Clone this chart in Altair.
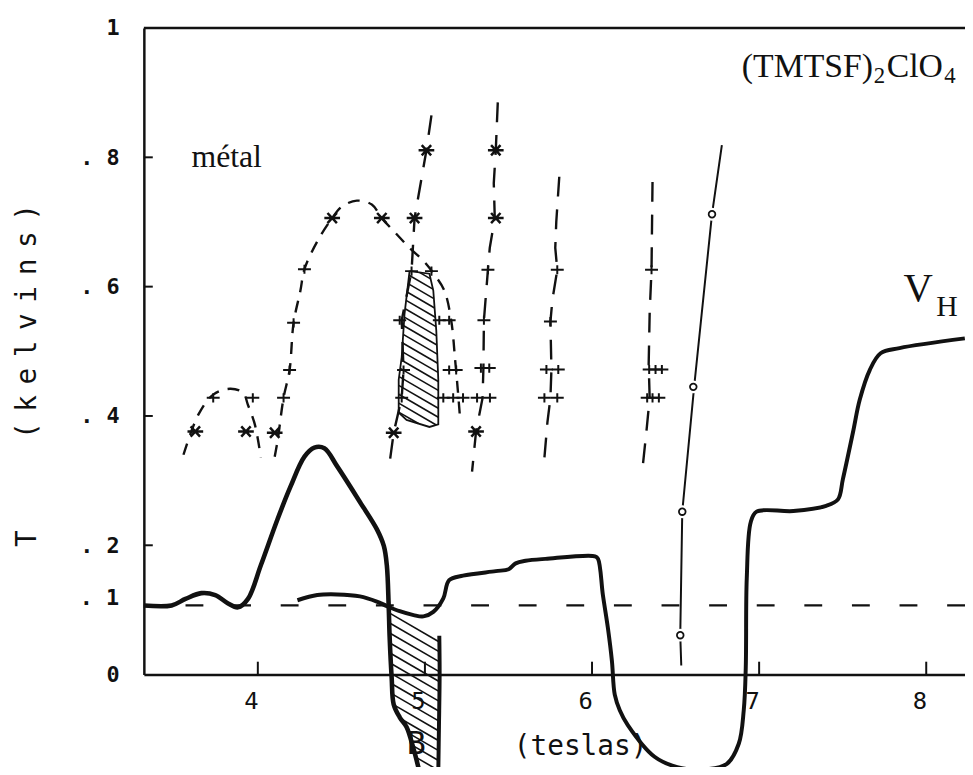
import altair as alt
import pandas as pd
import numpy as np

# ---------------- data (B in teslas, T in kelvins) ----------------
# thick V_H trace, left branch
vh1_B = [3.318, 3.484, 3.567, 3.662, 3.745, 3.822, 3.881, 3.941, 4.018, 4.119, 4.196, 4.279,
         4.338, 4.398, 4.475, 4.611, 4.712, 4.754, 4.772, 4.783, 4.789, 4.801, 4.813, 4.849,
         4.890, 4.932, 4.967]
vh1_T = [0.107, 0.107, 0.117, 0.126, 0.123, 0.110, 0.104, 0.117, 0.169, 0.241, 0.291, 0.337,
         0.351, 0.350, 0.322, 0.267, 0.225, 0.199, 0.169, 0.107, 0.057, -0.005, -0.046, -0.066,
         -0.081, -0.115, -0.150]
# short vertical trace bounding the lower hatched zone
vh2_B = [5.086, 5.088, 5.084, 5.080]
vh2_T = [0.060, 0.000, -0.080, -0.150]
# long V_H trace
vh3_B = [4.237, 4.356, 4.475, 4.611, 4.712, 4.772, 4.849, 4.932, 4.991, 5.050, 5.110, 5.145,
         5.228, 5.424, 5.501, 5.543, 5.602, 5.721, 6.018, 6.036, 6.065, 6.095, 6.119, 6.136,
         6.166, 6.214, 6.374, 6.510, 6.653, 6.807, 6.878, 6.908, 6.920, 6.926, 6.950, 6.985,
         7.205, 7.401, 7.472, 7.501, 7.561, 7.602, 7.662, 7.727, 7.840, 8.231]
vh3_T = [0.115, 0.123, 0.124, 0.121, 0.113, 0.106, 0.098, 0.092, 0.090, 0.097, 0.118, 0.146,
         0.153, 0.160, 0.163, 0.172, 0.176, 0.179, 0.183, 0.179, 0.123, 0.072, 0.021, -0.031,
         -0.055, -0.078, -0.127, -0.143, -0.147, -0.138, -0.107, -0.055, 0.011, 0.149, 0.236,
         0.252, 0.253, 0.261, 0.271, 0.302, 0.374, 0.425, 0.471, 0.497, 0.505, 0.520]
ref_T = 0.107

# phase boundaries (dashed)
dome1_B = [3.555, 3.644, 3.733, 3.834, 3.911, 3.941, 3.982, 4.018]
dome1_T = [0.340, 0.402, 0.433, 0.442, 0.436, 0.417, 0.387, 0.336]
dome2_B = [4.101, 4.119, 4.154, 4.190, 4.214, 4.255, 4.279, 4.356, 4.445, 4.504, 4.593, 4.682,
           4.742, 4.831, 4.908, 4.991, 5.050, 5.116, 5.157, 5.181, 5.199, 5.211]
dome2_T = [0.337, 0.363, 0.428, 0.471, 0.544, 0.594, 0.627, 0.670, 0.706, 0.724, 0.733, 0.727,
           0.706, 0.681, 0.660, 0.640, 0.621, 0.594, 0.548, 0.486, 0.433, 0.394]
colA_B = [5.039, 5.009, 4.938, 4.920, 4.861, 4.872, 4.861, 4.813, 4.789]
colA_T = [0.865, 0.811, 0.706, 0.624, 0.548, 0.471, 0.428, 0.374, 0.328]
colB_B = [5.436, 5.424, 5.412, 5.418, 5.388, 5.377, 5.353, 5.350, 5.345, 5.306, 5.282]
colB_T = [0.885, 0.811, 0.760, 0.706, 0.660, 0.626, 0.548, 0.474, 0.428, 0.376, 0.314]
colC_B = [5.804, 5.786, 5.780, 5.792, 5.763, 5.751, 5.757, 5.751, 5.733, 5.709]
colC_T = [0.770, 0.700, 0.660, 0.626, 0.580, 0.546, 0.472, 0.428, 0.390, 0.317]
colD_B = [6.362, 6.356, 6.345, 6.339, 6.345, 6.327, 6.303]
colD_T = [0.762, 0.626, 0.560, 0.480, 0.428, 0.380, 0.321]
# solid line through open circles
circline_B = [6.777, 6.718, 6.611, 6.540, 6.528, 6.534]
circline_T = [0.819, 0.712, 0.445, 0.252, 0.061, 0.014]
circ_B = [6.718, 6.606, 6.540, 6.528]
circ_T = [0.712, 0.445, 0.252, 0.061]

# measured points
star_B = [3.626, 3.929, 4.101, 4.445, 4.742, 5.009, 4.938, 4.813, 5.424, 5.424, 5.306]
star_T = [0.376, 0.376, 0.374, 0.706, 0.706, 0.811, 0.706, 0.374, 0.811, 0.706, 0.376]
plus_B = [3.733, 3.970, 4.154, 4.190, 4.214, 4.279, 4.920, 4.849, 4.872, 4.861,
          5.039, 5.086, 5.145, 5.145, 5.187, 5.110, 5.169, 5.228,
          5.377, 5.353, 5.335, 5.385, 5.312, 5.389,
          5.792, 5.751, 5.727, 5.798, 5.715, 5.792,
          6.356, 6.342, 6.380, 6.418, 6.330, 6.362, 6.400]
plus_T = [0.428, 0.428, 0.428, 0.471, 0.544, 0.627, 0.624, 0.548, 0.471, 0.428,
          0.624, 0.548, 0.548, 0.471, 0.471, 0.428, 0.428, 0.428,
          0.626, 0.548, 0.474, 0.474, 0.428, 0.428,
          0.626, 0.546, 0.472, 0.472, 0.428, 0.428,
          0.626, 0.472, 0.472, 0.472, 0.428, 0.428, 0.428]

# hatched zones (polygons)
hup_B = [4.908, 4.878, 4.861, 4.843, 4.843, 4.890, 5.027, 5.080, 5.080, 5.068, 5.050, 5.027]
hup_T = [0.624, 0.558, 0.491, 0.456, 0.405, 0.394, 0.383, 0.387, 0.456, 0.532, 0.594, 0.620]
hlo_B = [4.789, 4.789, 4.801, 4.813, 4.849, 4.890, 4.932, 4.967, 5.080, 5.084, 5.088, 5.086]
hlo_T = [0.098, 0.057, -0.005, -0.046, -0.066, -0.081, -0.115, -0.150, -0.150, -0.080, 0.000, 0.060]

x_ticks = [4, 5, 6, 7, 8]
y_ticks = [0.2, 0.4, 0.6, 0.8]
y_label_vals = [0, 0.2, 0.4, 0.6, 0.8, 1]

# ---------------- layout ----------------
W, H = 828, 652
B_MIN, B_MAX = 3.318, 8.232
INK = "#111111"
MONO = "DejaVu Sans Mono"
SERIF = "Liberation Serif"

xs = alt.Scale(domain=[B_MIN, B_MAX], nice=False, zero=False)
ys = alt.Scale(domain=[0, 1], nice=False, zero=False)
xaxis = alt.Axis(values=x_ticks, format="d", title=None, grid=False, ticks=False, tickSize=0,
                 labelFont=MONO, labelFontSize=24, labelColor=INK, labelPadding=15,
                 labelOffset=-7, domainColor=INK, domainWidth=2.5)
yaxis = alt.Axis(values=y_label_vals, title=None, grid=False, ticks=False, tickSize=0,
                 labelExpr="datum.value == 0 ? '0' : datum.value == 1 ? '1' : '. ' + format(datum.value*10, 'd')",
                 labelFont=MONO, labelFontSize=22, labelFontWeight="bold", labelColor=INK,
                 labelPadding=25, domainColor=INK, domainWidth=2.5)

X = lambda: alt.X("B:Q", scale=xs, axis=xaxis)
Y = lambda: alt.Y("T:Q", scale=ys, axis=yaxis)


def series(Bs, Ts, name=""):
    return pd.DataFrame({"B": Bs, "T": Ts, "i": range(len(Bs)), "s": name})


def line_layer(df, width, dash=None, interp="linear"):
    kw = dict(color=INK, strokeWidth=width, interpolate=interp, clip=False)
    if dash:
        kw["strokeDash"] = dash
    return alt.Chart(df).mark_line(**kw).encode(x=X(), y=Y(), order="i:Q", detail="s:N")


def hatch(Bs, Ts, slope_px=0.58, step_px=10.0):
    px_per_B = W / (B_MAX - B_MIN)
    m = -slope_px * px_per_B / H
    step = step_px / H
    pts = list(zip(Bs, Ts))
    n = len(pts)
    vals = [t - m * b for b, t in pts]
    segs = []
    c = np.ceil(min(vals) / step) * step
    while c < max(vals):
        hits = []
        for k in range(n):
            (b1, t1), (b2, t2) = pts[k], pts[(k + 1) % n]
            f1, f2 = t1 - m * b1 - c, t2 - m * b2 - c
            if (f1 < 0) != (f2 < 0):
                s = f1 / (f1 - f2)
                hits.append(b1 + s * (b2 - b1))
        hits.sort()
        for j in range(0, len(hits) - 1, 2):
            segs.append({"B": hits[j], "T": c + m * hits[j], "B2": hits[j + 1], "T2": c + m * hits[j + 1]})
        c += step
    return segs


hatch_df = pd.DataFrame(hatch(hup_B, hup_T, step_px=9.0) + hatch(hlo_B, hlo_T))
hatch_layer = alt.Chart(hatch_df).mark_rule(color=INK, strokeWidth=1.6, clip=False).encode(
    x=X(), y=Y(), x2="B2:Q", y2="T2:Q")

outline_df = series(hup_B + [hup_B[0]], hup_T + [hup_T[0]], "up")
outline_layer = line_layer(outline_df, 1.8)

ref_layer = alt.Chart(pd.DataFrame({"T": [ref_T]})).mark_rule(
    color=INK, strokeWidth=2.2, strokeDash=[18, 30]).encode(y=Y())

domes = pd.concat([series(dome1_B, dome1_T, "d1"), series(dome2_B, dome2_T, "d2")])
dome_layer = line_layer(domes, 2.4, dash=[12, 9], interp="catmull-rom")
cols = pd.concat([series(colA_B, colA_T, "a"), series(colB_B, colB_T, "b"),
                  series(colC_B, colC_T, "c"), series(colD_B, colD_T, "d")])
col_layer = line_layer(cols, 2.4, dash=[20, 13])
circline_layer = line_layer(series(circline_B, circline_T, "o"), 2.0)

vh_layer1 = line_layer(series(vh1_B, vh1_T, "v1"), 4.6, interp="catmull-rom")
vh_layer2 = line_layer(series(vh2_B, vh2_T, "v2"), 4.0, interp="catmull-rom")
vh_layer3 = line_layer(series(vh3_B, vh3_T, "v3"), 4.0, interp="catmull-rom")

circ_df = pd.DataFrame({"B": circ_B, "T": circ_T})
halo_layer = alt.Chart(circ_df).mark_point(shape="circle", filled=True, color="white",
                                           size=170, opacity=1).encode(x=X(), y=Y())
circ_layer = alt.Chart(circ_df).mark_point(shape="circle", filled=True, fill="white",
                                           stroke=INK, strokeWidth=1.8, size=45,
                                           opacity=1).encode(x=X(), y=Y())

STAR = "M-1,0L1,0M-0.6,-0.65L0.6,0.65M-0.6,0.65L0.6,-0.65"
PLUS = "M-1,0L1,0M0,-0.7L0,0.7"
star_layer = alt.Chart(pd.DataFrame({"B": star_B, "T": star_T})).mark_point(
    shape=STAR, filled=False, stroke=INK, strokeWidth=2.5, size=250, opacity=1).encode(x=X(), y=Y())
plus_layer = alt.Chart(pd.DataFrame({"B": plus_B, "T": plus_T})).mark_point(
    shape=PLUS, filled=False, stroke=INK, strokeWidth=2.0, size=170, opacity=1).encode(x=X(), y=Y())

# frame and inward ticks
top_rule = alt.Chart(pd.DataFrame({"a": [0]})).mark_rule(color=INK, strokeWidth=2.5).encode(
    x=alt.value(0), x2=alt.value(W), y=alt.value(0))
xtick_layer = alt.Chart(pd.DataFrame({"B": x_ticks})).mark_rule(color=INK, strokeWidth=2).encode(
    x=X(), y=alt.value(H), y2=alt.value(H - 13))
ytick_layer = alt.Chart(pd.DataFrame({"T": y_ticks})).mark_rule(color=INK, strokeWidth=2).encode(
    y=Y(), x=alt.value(0), x2=alt.value(9))


def label(text, x, y, font, size, align="left", baseline="alphabetic", angle=0, weight="normal"):
    kw = dict(text=text, font=font, fontSize=size, align=align, baseline=baseline,
              color=INK, fontWeight=weight)
    if angle:
        kw["angle"] = angle
    return alt.Chart(pd.DataFrame({"a": [0]})).mark_text(**kw).encode(
        x=alt.value(x), y=alt.value(y))


def spaced_vertical(text, x, y_start, advance, size):
    """Rotated (bottom-to-top) text with wide letter spacing, one glyph per row."""
    df = pd.DataFrame({"ch": list(text)})
    df["py"] = [y_start - k * advance for k in range(len(text))]
    return alt.Chart(df).mark_text(font=MONO, fontSize=size, angle=270, align="center",
                                   baseline="middle", color=INK).encode(
        x=alt.value(x), y=alt.Y("py:Q", scale=None), text="ch:N")


texts = [
    label(". 1", -25, 575, MONO, 22, align="right", baseline="middle", weight="bold"),
    label("métal", 48, 140, SERIF, 32),
    label("(TMTSF)", 603, 49, SERIF, 34),
    label("2", 736, 55, SERIF, 23),
    label("ClO", 749, 49, SERIF, 34),
    label("4", 807, 55, SERIF, 23),
    label("V", 766, 275, SERIF, 41),
    label("H", 799, 290, SERIF, 30),
    label("B", 265, 732, MONO, 32),
    label("(teslas)", 373, 733, MONO, 28),
    spaced_vertical("(kelvins)", -117, 406, 27.5, 28),
    spaced_vertical("T", -117, 515, 27.5, 28),
]

chart = alt.layer(
    hatch_layer, outline_layer, ref_layer, dome_layer, col_layer, circline_layer,
    vh_layer1, vh_layer2, vh_layer3, halo_layer, circ_layer, star_layer, plus_layer,
    top_rule, xtick_layer, ytick_layer, *texts
).properties(
    width=W, height=H,
    autosize=alt.AutoSizeParams(type="none"),
    padding={"left": 137, "top": 17, "right": 0, "bottom": 90},
    background="white",
).configure_view(stroke=None)

chart.save("out.html", embed_options={"renderer": "svg", "actions": False})
